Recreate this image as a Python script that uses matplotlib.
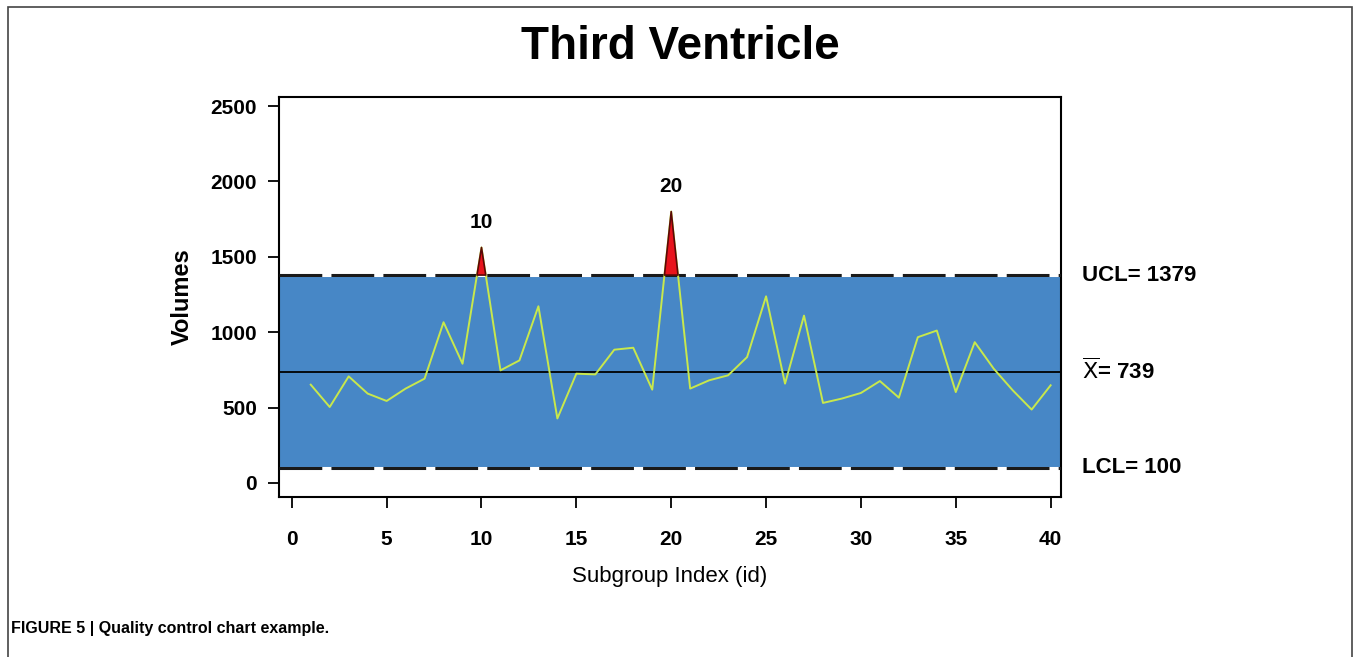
import matplotlib.pyplot as plt
from matplotlib.patches import Rectangle

# data
subgroup = list(range(1, 41))
volumes = [652, 504, 707, 593, 544, 626, 692, 1066, 791, 1562,
           747, 813, 1172, 428, 725, 720, 884, 897, 619, 1800,
           626, 681, 714, 835, 1238, 659, 1110, 531, 560, 597,
           676, 566, 967, 1011, 603, 934, 758, 615, 487, 648]
ucl = 1379
xbar = 739
lcl = 100
flagged = [10, 20]
y_ticks = [0, 500, 1000, 1500, 2000, 2500]
x_ticks = [0, 5, 10, 15, 20, 25, 30, 35, 40]

plt.rcParams['font.family'] = ['Liberation Sans', 'DejaVu Sans']

fig = plt.figure(figsize=(13.56, 6.57), dpi=100)
ax = fig.add_axes([0.2058, 0.2435, 0.5767, 0.6089])

# control band
ax.axhspan(lcl, ucl, color='#4787c6', zorder=1)
ax.axhline(ucl, color='white', lw=2.2, zorder=2)
ax.axhline(lcl, color='white', lw=2.2, zorder=2)
ax.axhline(ucl, color='#1a1a1a', lw=2.2, ls=(0, (14, 3)), zorder=3)
ax.axhline(lcl, color='#1a1a1a', lw=2.2, ls=(0, (14, 3)), zorder=3)
ax.axhline(xbar, color='black', lw=1.3, zorder=3)

ax.plot(subgroup, volumes, color='#c8e84c', lw=1.4, zorder=4)
# out of control region
ax.fill_between(subgroup, volumes, ucl, where=[v > ucl for v in volumes],
                interpolate=True, facecolor='#e8141c', edgecolor='#5a0808',
                lw=1.2, zorder=5)

for i in flagged:
    ax.annotate(str(i), (i, volumes[i - 1]), xytext=(0, 11),
                textcoords='offset points', ha='center', va='bottom',
                fontsize=15, fontweight='bold')

ax.set_xlim(-0.67, 40.55)
ax.set_ylim(-93, 2560)
ax.set_xticks(x_ticks)
ax.set_yticks(y_ticks)
ax.tick_params(axis='both', direction='out', length=8, width=1.3,
               labelsize=15)
ax.tick_params(axis='x', pad=16)
ax.tick_params(axis='y', pad=8)
for lab in ax.get_xticklabels() + ax.get_yticklabels():
    lab.set_fontweight('bold')
for s in ax.spines.values():
    s.set_linewidth(1.5)

ax.set_xlabel('Subgroup Index (id)', fontsize=16, labelpad=12)
ax.set_ylabel('Volumes', fontsize=17, fontweight='bold', labelpad=12)

# control limit labels
ax.text(1.027, ucl, 'UCL= 1379', transform=ax.get_yaxis_transform(),
        va='center', ha='left', fontsize=16, fontweight='bold')
ax.text(1.027, xbar, r'$\overline{\mathrm{X}}$= 739', transform=ax.get_yaxis_transform(),
        va='center', ha='left', fontsize=16, fontweight='bold')
ax.text(1.027, lcl, 'LCL= 100', transform=ax.get_yaxis_transform(),
        va='center', ha='left', fontsize=16, fontweight='bold')

fig.text(0.5015, 0.928, 'Third Ventricle', ha='center', va='center',
         fontsize=33, fontweight='bold')
fig.text(0.008, 0.044, 'FIGURE 5 | Quality control chart example.',
         ha='left', va='center', fontsize=11.5, fontweight='bold',
         family=['Liberation Sans Narrow', 'Liberation Sans', 'DejaVu Sans'])

# outer frame
fig.patches.append(Rectangle((0.006, -0.05), 0.991, 1.039, transform=fig.transFigure,
                             fill=False, edgecolor='#444444', lw=1.2))

fig.savefig('out.png', dpi=100)
